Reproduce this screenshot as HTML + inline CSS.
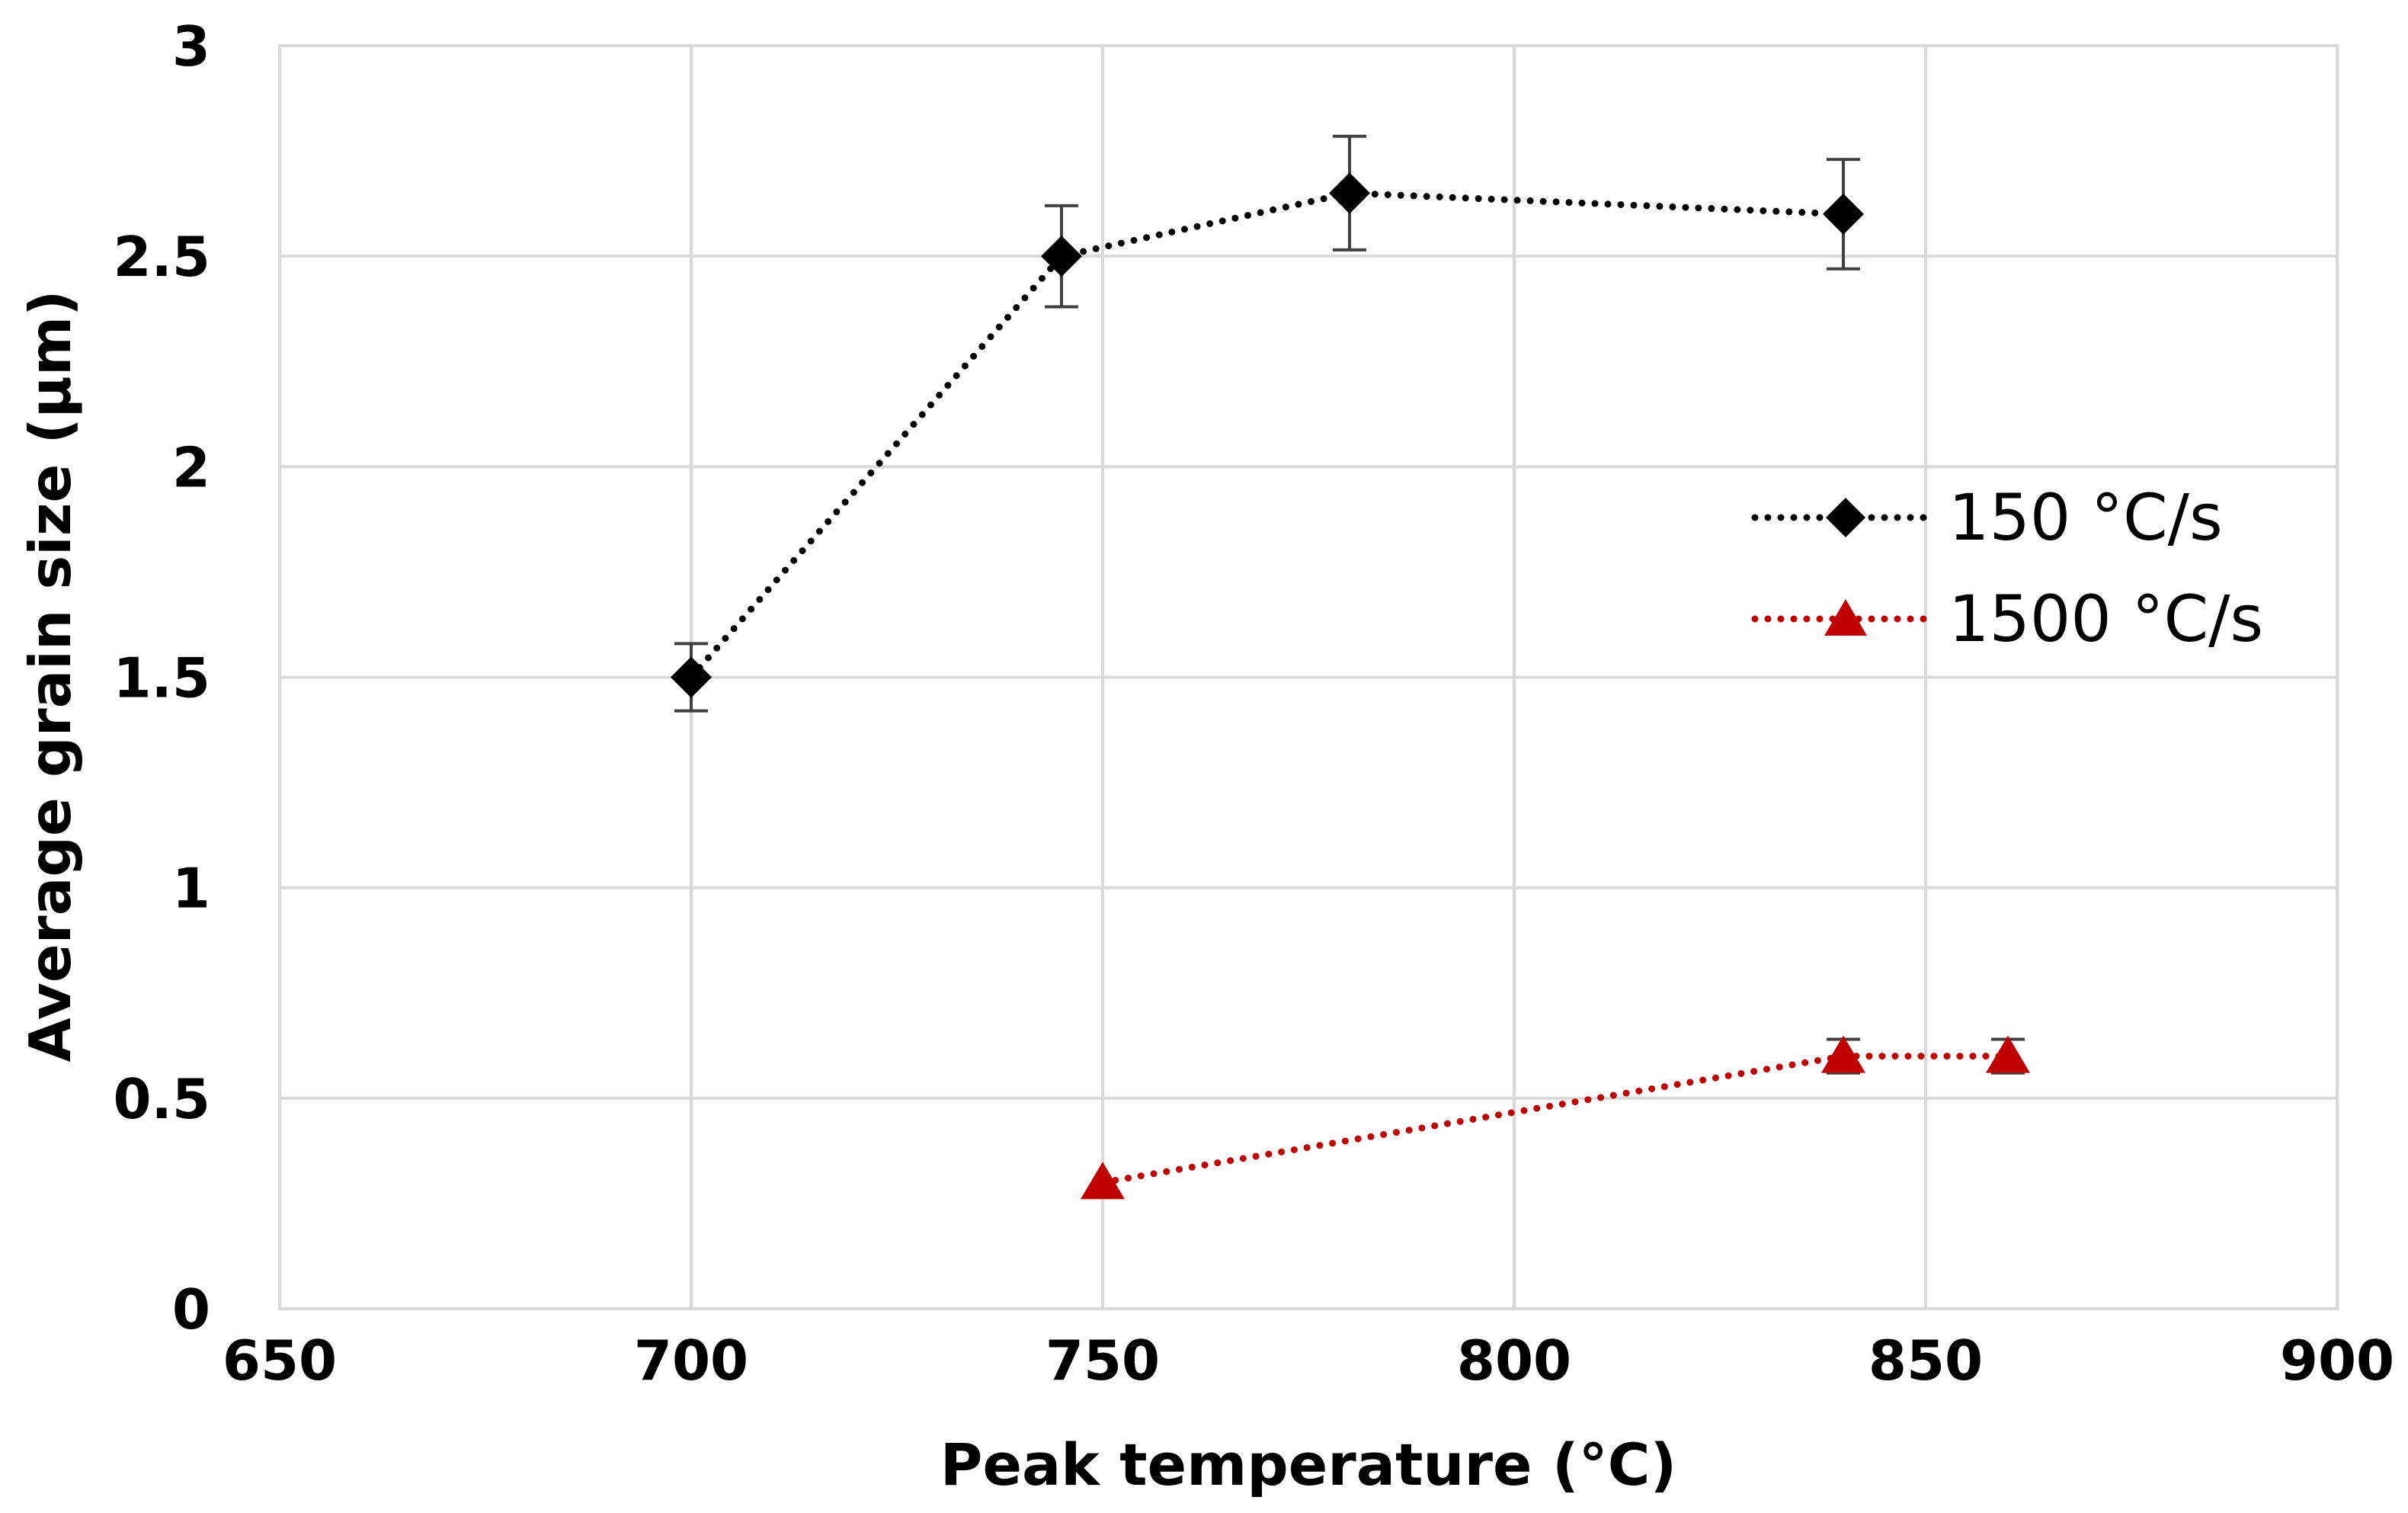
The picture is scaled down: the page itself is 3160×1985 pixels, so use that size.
<!DOCTYPE html>
<html><head><meta charset="utf-8"><style>
body{margin:0;background:#fff;}
svg{display:block;font-family:"DejaVu Sans","Liberation Sans",sans-serif;}
</style></head><body>
<svg id="chart" width="3160" height="1985" xmlns="http://www.w3.org/2000/svg">
<g id="grid"></g>
<g id="ticks"></g>
<g id="series"></g>
<text transform="translate(92,887) rotate(-90)" text-anchor="middle" font-size="75" font-weight="bold" fill="#000">Average grain size (µm)</text>
<text x="1717" y="1948" text-anchor="middle" font-size="76" font-weight="bold" fill="#000">Peak temperature (°C)</text>
<g>
 <g>
  <line x1="2303" y1="679" x2="2525" y2="679" stroke="#000" stroke-width="9" stroke-linecap="round" stroke-dasharray="0 17"/>
  <path d="M2422,653 L2448,679 L2422,705 L2396,679 Z" fill="#000"/>
  <text x="2557" y="708" font-size="84" fill="#000">150 °C/s</text>
 </g>
 <g>
  <line x1="2303" y1="812" x2="2525" y2="812" stroke="#c00000" stroke-width="9" stroke-linecap="round" stroke-dasharray="0 17"/>
  <path d="M2422,786 L2450,834 L2394,834 Z" fill="#c00000"/>
  <text x="2557" y="841" font-size="84" fill="#000">1500 °C/s</text>
 </g>
</g>
</svg>
<script>
const xTicks=[650,700,750,800,850,900];
const yTicks=[0,0.5,1,1.5,2,2.5,3];
const xTickLabels=["650","700","750","800","850","900"];
const yTickLabels=["0","0.5","1","1.5","2","2.5","3"];
const s1X=[700,745,780,840];
const s1Y=[1.5,2.5,2.65,2.6];
const s1Err=[0.08,0.12,0.135,0.13];
const s2X=[750,840,860];
const s2Y=[0.3,0.6,0.6];
const s2Err=[0,0.04,0.04];
const L=367,R=3067,T=60,B=1717;
const xs=v=>L+(v-650)/(900-650)*(R-L);
const ys=v=>B-(v/3)*(B-T);
const NS="http://www.w3.org/2000/svg";
function mk(tag,attrs,parent){const e=document.createElementNS(NS,tag);for(const k in attrs)e.setAttribute(k,attrs[k]);parent.appendChild(e);return e;}
const grid=document.getElementById('grid'),ticks=document.getElementById('ticks'),ser=document.getElementById('series');
xTicks.forEach((v,i)=>{
 const l=mk('line',{x1:xs(v),x2:xs(v),y1:T,y2:B,stroke:'#d9d9d9','stroke-width':4},grid);
 
 
 const t=mk('text',{x:xs(v),y:1810,'text-anchor':'middle','font-size':72,'font-weight':'bold',fill:'#000'},ticks);
 t.textContent=xTickLabels[i];
 
 
});
yTicks.forEach((v,i)=>{
 const l=mk('line',{x1:L,x2:R,y1:ys(v),y2:ys(v),stroke:'#d9d9d9','stroke-width':4},grid);
 
 
 const t=mk('text',{x:276,y:ys(v)+26,'text-anchor':'end','font-size':72,'font-weight':'bold',fill:'#000'},ticks);
 t.textContent=yTickLabels[i];
 
 
});
function series(X,Y,E,color,marker,name){
 const g=mk('g',{},ser);
 
 
 const pts=X.map((x,i)=>xs(x)+','+ys(Y[i])).join(' ');
 mk('polyline',{points:pts,fill:'none',stroke:color,'stroke-width':9,'stroke-linecap':'round','stroke-dasharray':'0 17'},g);
 X.forEach((x,i)=>{
  const cx=xs(x),cy=ys(Y[i]);
  if(E[i]>0){
   const eb=mk('path',{d:`M${cx},${ys(Y[i]+E[i])}V${ys(Y[i]-E[i])}M${cx-22},${ys(Y[i]+E[i])}h44M${cx-22},${ys(Y[i]-E[i])}h44`,stroke:'#404040','stroke-width':4,fill:'none'},g);
   
   
  }
  let m;
  if(marker==='d') m=mk('path',{d:`M${cx},${cy-27}L${cx+27},${cy}L${cx},${cy+27}L${cx-27},${cy}Z`,fill:color},g);
  else m=mk('path',{d:`M${cx},${cy-27}L${cx+29},${cy+22}L${cx-29},${cy+22}Z`,fill:color},g);
  
  
 });
}
series(s1X,s1Y,s1Err,'#000','d','series-150');
series(s2X,s2Y,s2Err,'#c00000','t','series-1500');
const frame=mk('rect',{x:L,y:T,width:R-L,height:B-T,fill:'none',stroke:'#d9d9d9','stroke-width':4},grid);


</script>
</body></html>
